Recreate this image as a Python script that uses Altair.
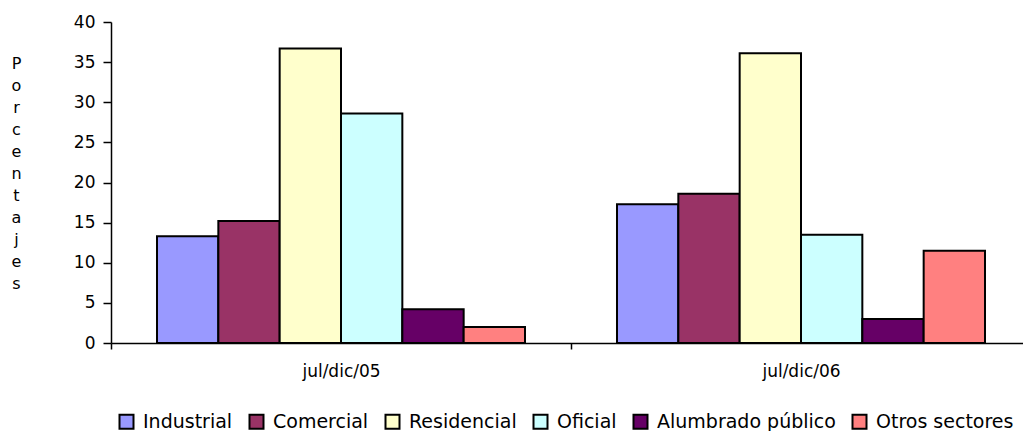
import altair as alt
import pandas as pd

periods = ["jul/dic/05", "jul/dic/06"]
sectors = ["Industrial", "Comercial", "Residencial", "Oficial", "Alumbrado público", "Otros sectores"]
colors = ["#9999FF", "#993366", "#FFFFCC", "#CCFFFF", "#660066", "#FF8080"]
vals_05 = [13.3, 15.2, 36.7, 28.6, 4.2, 2.0]
vals_06 = [17.3, 18.6, 36.1, 13.5, 3.0, 11.5]
y_ticks = [0, 5, 10, 15, 20, 25, 30, 35, 40]

rows = []
for p, vals in zip(periods, [vals_05, vals_06]):
    for s, v in zip(sectors, vals):
        rows.append({"periodo": p, "sector": s, "valor": v})
df = pd.DataFrame(rows)

y_title = list("Porcentajes")
FONT = "DejaVu Sans"

chart = alt.Chart(df).mark_bar(stroke="black", strokeWidth=2).encode(
    x=alt.X(
        "periodo:N", sort=periods,
        scale=alt.Scale(paddingInner=0, paddingOuter=0, range=[0, 920]),
        axis=alt.Axis(
            title=None, labelAngle=0, tickBand="extent", tickSize=6,
            labelPadding=14, labelFontSize=17, labelFont=FONT, labelColor="black",
            domainColor="black", tickColor="black", domainWidth=1.5, tickWidth=1.5,
        ),
    ),
    xOffset=alt.XOffset(
        "sector:N", sort=sectors,
        scale=alt.Scale(paddingInner=0, paddingOuter=0.75),
    ),
    y=alt.Y(
        "valor:Q",
        scale=alt.Scale(domain=[0, 40], nice=False),
        axis=alt.Axis(
            values=y_ticks, title=y_title, titleAngle=0, titleX=-95, titleY=41,
            titleAlign="center", titleBaseline="middle", titleLineHeight=22,
            titleFont=FONT, titleFontSize=16, titleFontWeight="normal", titleColor="black",
            grid=False, tickSize=8, labelPadding=8, labelFontSize=17, labelFont=FONT,
            labelColor="black", domainColor="black", tickColor="black",
            domainWidth=1.5, tickWidth=1.5,
        ),
    ),
    color=alt.Color(
        "sector:N", sort=sectors,
        scale=alt.Scale(domain=sectors, range=colors),
        legend=alt.Legend(
            title=None, orient="none", direction="horizontal", legendX=6, legendY=390,
            symbolType="square", symbolSize=196, symbolStrokeColor="black",
            symbolStrokeWidth=2, symbolOpacity=1, labelFont=FONT, labelFontSize=19,
            labelColor="black", labelOffset=7, columnPadding=12, labelLimit=0,
        ),
    ),
).properties(
    width=912, height=321,
    autosize=alt.AutoSizeParams(type="none"),
    padding={"left": 103, "top": 14, "right": 0, "bottom": 88},
).configure_view(stroke=None)

chart.save("out.html", embed_options={"renderer": "svg", "actions": False})
